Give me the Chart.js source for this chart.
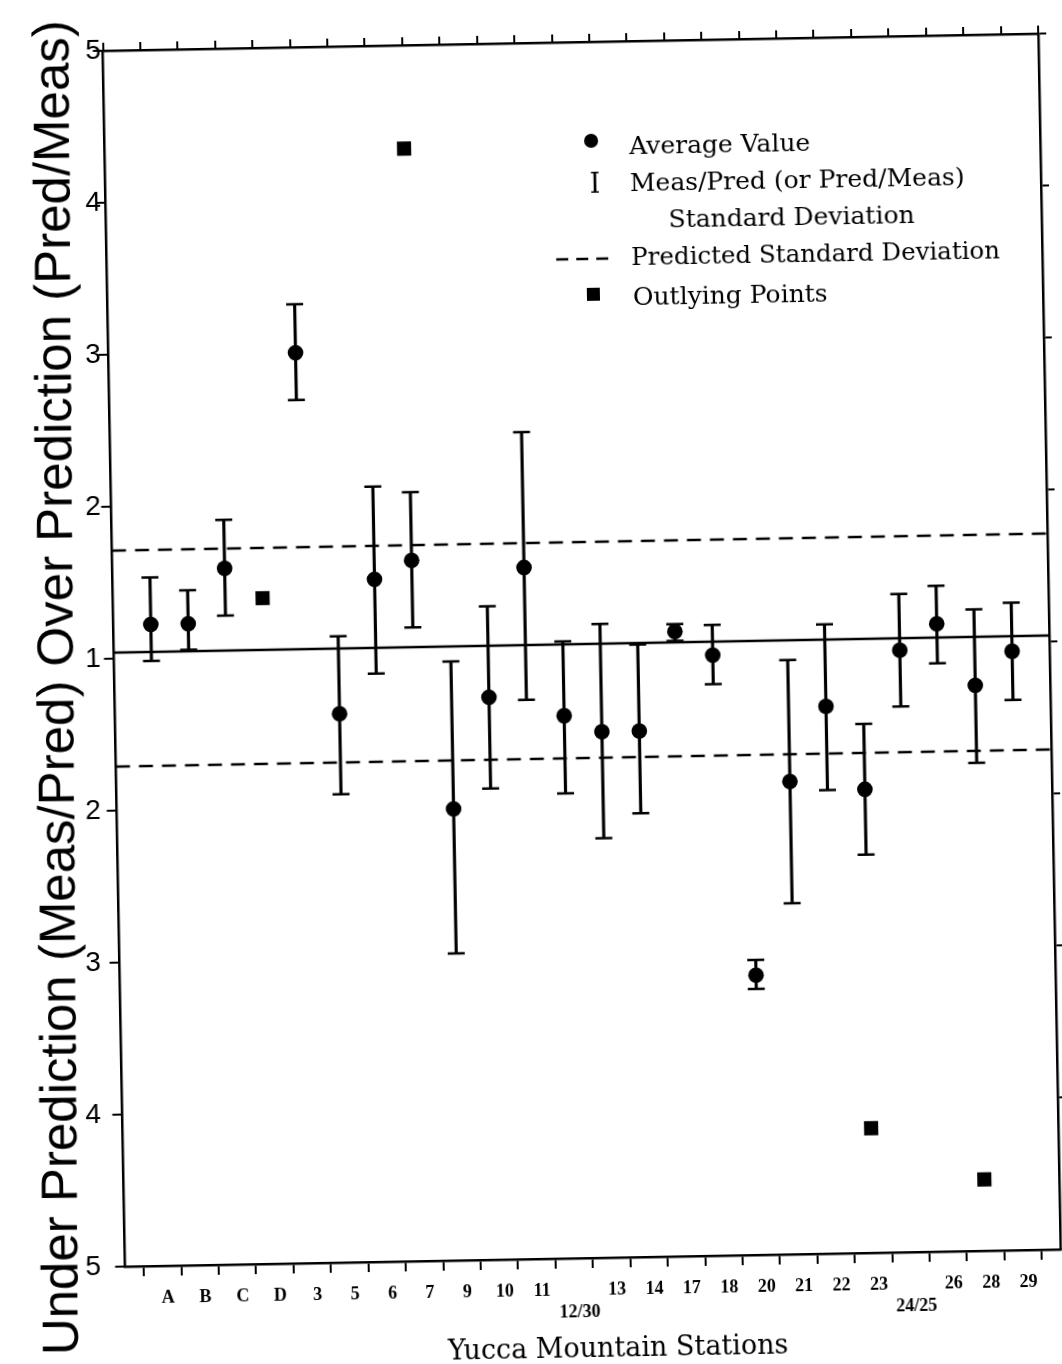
<!DOCTYPE html>
<html>
<head>
<meta charset="utf-8">
<script src="https://cdn.jsdelivr.net/npm/chart.js@4/dist/chart.umd.min.js"></script>
<style>
html,body{margin:0;padding:0;background:#fff;overflow:hidden;width:1062px;height:1364px}
#wrap{width:1062px;height:1364px;transform:rotate(-1.05deg);transform-origin:531px 682px}
canvas{display:block}
</style>
</head>
<body>
<div id="wrap"><canvas id="c" width="1062" height="1364"></canvas></div>
<script>
// ---- data (display units: +v means Pred/Meas = 1+v, -v means Meas/Pred = 1+v) ----
const stations = ['A','B','C','D','3','5','6','7','9','10','11','12/30','13','14','17','18','20','21','22','23','24/25','26','28','29'];
const avgValue = [0.22, 0.22, 0.58, null, 1.99, -0.39, 0.49, 0.61, -1.03, -0.30, 0.55, -0.43, -0.54, -0.54, 0.11, -0.05, -2.16, -0.89, -0.40, -0.95, -0.04, 0.13, -0.28, -0.06];
const sdHigh   = [0.53, 0.44, 0.90, null, 2.31, 0.12, 1.10, 1.06, -0.06, 0.30, 1.44, 0.06, 0.17, 0.03, 0.16, 0.15, -2.06, -0.09, 0.14, -0.52, 0.33, 0.38, 0.22, 0.26];
const sdLow    = [-0.02, 0.05, 0.27, null, 1.68, -0.92, -0.13, 0.17, -1.98, -0.90, -0.32, -0.94, -1.24, -1.08, 0.05, -0.24, -2.25, -1.69, -0.95, -1.38, -0.41, -0.13, -0.79, -0.38];
const outlying = [null, null, null, 0.38, null, null, null, 3.32, null, null, null, null, null, null, null, null, null, null, null, -3.18, null, null, -3.53, null];
const predictedSd = [0.71, -0.71];
const unityLevel = [0.04];
const yTickValues = [-4, -3, -2, -1, 0, 1, 2, 3, 4];
const yTickLabels = ['5','4','3','2','1','2','3','4','5'];
const yTitle = 'Under Prediction (Meas/Pred) Over Prediction (Pred/Meas)';
const xTitle = 'Yucca Mountain Stations';
const legendItems = ['Average Value', 'Meas/Pred (or Pred/Meas)', 'Standard Deviation', 'Predicted Standard Deviation', 'Outlying Points'];

const X_MIN = -1, X_MAX = stations.length;
const idx = stations.map((_, i) => i);
const errBars = idx.filter(i => sdHigh[i] != null).map(i => ({x: i, y: [sdLow[i], sdHigh[i]]}));
const caps = idx.filter(i => sdHigh[i] != null).flatMap(i => [{x: i, y: sdHigh[i]}, {x: i, y: sdLow[i]}]);
const avgPts = idx.filter(i => avgValue[i] != null).map(i => ({x: i, y: avgValue[i]}));
const outPts = idx.filter(i => outlying[i] != null).map(i => ({x: i, y: outlying[i]}));
const hLine = v => [{x: X_MIN, y: v}, {x: X_MAX, y: v}];

const SERIF = '"DejaVu Serif", serif';
const SANS = '"Liberation Sans", Arial, sans-serif';
const SKEW = 0.0183; // scan tilt compensation for the pasted-on y labels / title

const textPlugin = {
  id: 'texts',
  afterDraw(chart) {
    const ctx = chart.ctx;
    const ys = chart.scales.y;
    ctx.save();
    ctx.fillStyle = '#000';
    ctx.strokeStyle = '#000';
    // y tick labels (a straight column on the original page)
    ctx.font = '28px ' + SANS;
    ctx.textAlign = 'center';
    ctx.textBaseline = 'middle';
    yTickValues.forEach((v, k) => {
      const py = ys.getPixelForValue(v);
      ctx.fillText(yTickLabels[k], 93 - (py - 682) * SKEW, py);
    });
    // y-axis title (nearly upright on the page)
    ctx.save();
    ctx.translate(59, 679);
    ctx.rotate(-Math.PI / 2 + 0.011);
    ctx.font = '51px ' + SANS;
    ctx.fillText(yTitle, 0, 0);
    ctx.restore();
    // x-axis title
    ctx.font = '27px ' + SERIF;
    ctx.fillText(xTitle, 606, 1351);
    // legend
    ctx.textAlign = 'left';
    ctx.font = '25px ' + SERIF;
    ctx.beginPath(); ctx.arc(601, 142, 7, 0, Math.PI * 2); ctx.fill();
    ctx.fillText(legendItems[0], 639, 149);
    ctx.save(); ctx.textAlign = 'center'; ctx.font = '27px ' + SERIF; ctx.fillText('I', 604, 187); ctx.restore();
    ctx.fillText(legendItems[1], 639, 186);
    ctx.fillText(legendItems[2], 677, 223);
    ctx.save(); ctx.lineWidth = 2.5; ctx.setLineDash([12, 8]);
    ctx.beginPath(); ctx.moveTo(564, 260); ctx.lineTo(618, 260); ctx.stroke(); ctx.restore();
    ctx.font = '24.5px ' + SERIF;
    ctx.fillText(legendItems[3], 639, 261);
    ctx.fillRect(594, 289, 13, 13);
    ctx.font = '25px ' + SERIF;
    ctx.fillText(legendItems[4], 640, 300);
    ctx.restore();
  }
};

const frameGrid = {drawOnChartArea: false, drawTicks: true, tickLength: 10, color: '#000', lineWidth: 2};
const frameBorder = {display: true, color: '#000', width: 2.5};

new Chart(document.getElementById('c'), {
  type: 'scatter',
  data: {
    datasets: [
      {type: 'line', data: hLine(unityLevel[0]), borderColor: '#000', borderWidth: 2.5, pointRadius: 0, order: 6},
      {type: 'line', data: hLine(predictedSd[0]), borderColor: '#000', borderWidth: 2.5, borderDash: [14, 9], pointRadius: 0, order: 6},
      {type: 'line', data: hLine(predictedSd[1]), borderColor: '#000', borderWidth: 2.5, borderDash: [14, 9], pointRadius: 0, order: 6},
      {type: 'bar', data: errBars, backgroundColor: '#000', borderWidth: 0, barThickness: 2.5, order: 5},
      {type: 'scatter', data: caps, pointStyle: 'line', pointRadius: 8.5, borderColor: '#000', borderWidth: 2.5, order: 4},
      {type: 'scatter', data: avgPts, pointStyle: 'circle', pointRadius: 7.8, backgroundColor: '#000', borderColor: '#000', borderWidth: 0, order: 1},
      {type: 'scatter', data: outPts, pointStyle: 'rect', pointRadius: 10, backgroundColor: '#000', borderColor: '#000', borderWidth: 0, order: 1}
    ]
  },
  options: {
    responsive: false,
    animation: false,
    devicePixelRatio: 1,
    events: [],
    layout: {padding: 0},
    plugins: {legend: {display: false}, tooltip: {enabled: false}},
    scales: {
      x: {
        type: 'linear', position: 'bottom', min: X_MIN, max: X_MAX, offset: false,
        afterFit: s => { s.height = 105; },
        afterBuildTicks: s => { s.ticks = []; for (let v = X_MIN; v <= X_MAX; v++) s.ticks.push({value: v}); },
        grid: frameGrid, border: frameBorder,
        ticks: {
          autoSkip: false, maxRotation: 0, minRotation: 0, padding: 12, labelOffset: 5, color: '#000',
          font: {family: '"Liberation Serif", serif', size: 18, weight: 'bold'},
          callback: v => {
            const s = stations[v];
            if (s === undefined) return '';
            return s.includes('/') ? ['', s] : s;
          }
        }
      },
      x2: {
        type: 'linear', position: 'top', min: X_MIN, max: X_MAX, offset: false,
        afterFit: s => { s.height = 43; },
        afterBuildTicks: s => { s.ticks = []; for (let v = X_MIN; v <= X_MAX; v++) s.ticks.push({value: v}); },
        grid: Object.assign({}, frameGrid, {tickLength: 8}), border: frameBorder,
        ticks: {display: false}
      },
      y: {
        type: 'linear', position: 'left', min: -4, max: 4,
        afterFit: s => { s.width = 114.5; },
        grid: frameGrid, border: frameBorder,
        ticks: {stepSize: 1, display: false}
      },
      y2: {
        type: 'linear', position: 'right', min: -4, max: 4,
        afterFit: s => { s.width = 10; },
        grid: Object.assign({}, frameGrid, {tickLength: 8}), border: frameBorder,
        ticks: {display: false, stepSize: 1}
      }
    }
  },
  plugins: [textPlugin]
});
</script>
</body>
</html>
